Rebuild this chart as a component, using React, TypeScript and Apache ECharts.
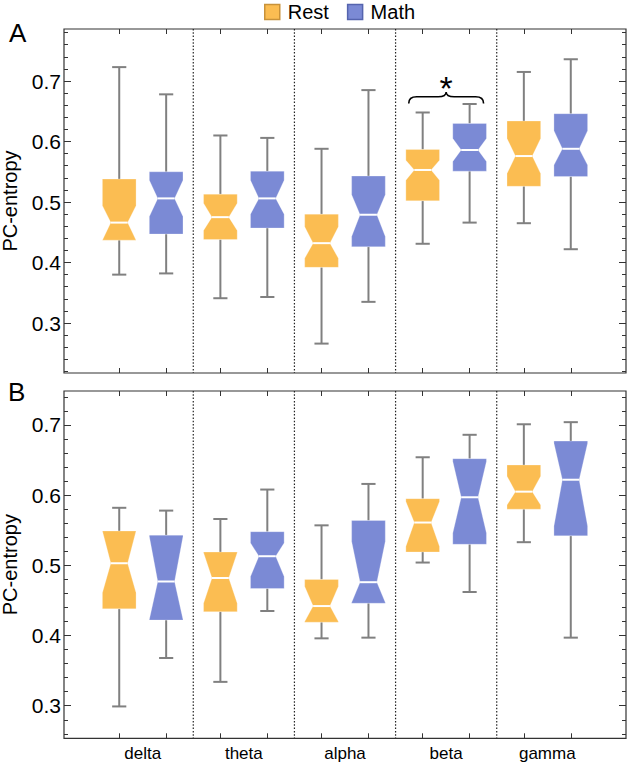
import React, { useEffect, useRef } from "react";
import * as echarts from "echarts";

const bands = ["delta", "theta", "alpha", "beta", "gamma"];
const groupNames = ["Rest", "Math"];
// each box: [min, q1, notchLow, median, notchHigh, q3, max]
const restA = [
  [0.380, 0.437, 0.437, 0.466, 0.494, 0.538, 0.723],
  [0.341, 0.438, 0.453, 0.475, 0.498, 0.513, 0.610],
  [0.266, 0.392, 0.407, 0.432, 0.459, 0.480, 0.588],
  [0.431, 0.502, 0.536, 0.553, 0.569, 0.587, 0.648],
  [0.465, 0.526, 0.547, 0.576, 0.605, 0.634, 0.715],
];
const mathA = [
  [0.382, 0.447, 0.476, 0.506, 0.536, 0.550, 0.678],
  [0.343, 0.457, 0.480, 0.506, 0.536, 0.551, 0.606],
  [0.335, 0.426, 0.443, 0.479, 0.512, 0.543, 0.685],
  [0.466, 0.551, 0.567, 0.586, 0.605, 0.630, 0.662],
  [0.422, 0.542, 0.561, 0.588, 0.618, 0.646, 0.736],
];
const restB = [
  [0.299, 0.438, 0.461, 0.503, 0.549, 0.549, 0.582],
  [0.334, 0.434, 0.446, 0.482, 0.518, 0.519, 0.566],
  [0.396, 0.419, 0.420, 0.442, 0.470, 0.480, 0.557],
  [0.504, 0.519, 0.527, 0.561, 0.591, 0.595, 0.654],
  [0.533, 0.580, 0.586, 0.605, 0.627, 0.643, 0.701],
];
const mathB = [
  [0.368, 0.422, 0.423, 0.477, 0.541, 0.543, 0.578],
  [0.435, 0.467, 0.484, 0.513, 0.532, 0.548, 0.608],
  [0.397, 0.446, 0.447, 0.476, 0.534, 0.564, 0.616],
  [0.462, 0.530, 0.546, 0.597, 0.648, 0.652, 0.686],
  [0.397, 0.542, 0.556, 0.622, 0.674, 0.677, 0.704],
];
const yTickLabels = [0.3, 0.4, 0.5, 0.6, 0.7];
const separators = [1.5, 2.5, 3.5, 4.5];
// significance annotation: band index (1-based), brace level, star text
const sigBand = [4];
const sigLevel = [0.674];
const sigText = ["*"];

const FONT = "Liberation Sans";
const COLORS: Record<string, string> = { Rest: "#FBBD52", Math: "#7B8AD5" };
const BORDERS: Record<string, string> = { Rest: "#C8923A", Math: "#5564AE" };
const OFFSET = 0.232;
const BOXW = 0.333;
const CAPW = 0.14;
const X_MIN = 0.222;
const X_MAX = 5.778;
const RANGE_A = [0.2174, 0.786];
const RANGE_B = [0.2536, 0.7484];

function minorTicks(min: number, max: number) {
  const out: number[] = [];
  for (let k = Math.ceil(min / 0.02 - 1e-6); k * 0.02 <= max + 1e-9; k++) {
    const v = Math.round(k * 2) / 100;
    if (!yTickLabels.some((m) => Math.abs(m - v) < 1e-6)) out.push(v);
  }
  return out;
}

const boxPositions = bands.flatMap((_, i) => [i + 1 - OFFSET, i + 1 + OFFSET]);

function boxRenderer(offset: number, color: string) {
  return (params: any, api: any) => {
    const x = api.value(0) + offset;
    const mn = api.value(1);
    const q1 = api.value(2);
    const q3 = api.value(6);
    const nlo = Math.max(api.value(3), q1);
    const med = api.value(4);
    const nhi = Math.min(api.value(5), q3);
    const mx = api.value(7);
    const hw = BOXW / 2;
    const ins = BOXW * 0.25;
    const p = (dx: number, v: number) => api.coord([x + dx, v]);
    const whisk = { stroke: "#808080", lineWidth: 2 };
    const c = p(0, 0);
    const cap = api.size([CAPW, 0])[0] / 2;
    const yMax = p(0, mx)[1];
    const yMin = p(0, mn)[1];
    const yQ3 = p(0, q3)[1];
    const yQ1 = p(0, q1)[1];
    const pts = [
      p(-hw, q3), p(hw, q3), p(hw, nhi), p(hw - ins, med), p(hw, nlo), p(hw, q1),
      p(-hw, q1), p(-hw, nlo), p(-hw + ins, med), p(-hw, nhi),
    ];
    const m1 = p(-hw + ins, med);
    const m2 = p(hw - ins, med);
    return {
      type: "group",
      children: [
        { type: "line", shape: { x1: c[0], y1: yMax, x2: c[0], y2: yQ3 }, style: whisk },
        { type: "line", shape: { x1: c[0] - cap, y1: yMax, x2: c[0] + cap, y2: yMax }, style: whisk },
        { type: "line", shape: { x1: c[0], y1: yQ1, x2: c[0], y2: yMin }, style: whisk },
        { type: "line", shape: { x1: c[0] - cap, y1: yMin, x2: c[0] + cap, y2: yMin }, style: whisk },
        { type: "polygon", shape: { points: pts }, style: { fill: color, stroke: "rgba(255,255,255,0.35)", lineWidth: 0.8 } },
        { type: "line", shape: { x1: m1[0], y1: m1[1], x2: m2[0], y2: m2[1] }, style: { stroke: "#fff", lineWidth: 2 } },
      ],
    };
  };
}

function sepRenderer(params: any, api: any) {
  const cs = params.coordSys;
  const c = api.coord([api.value(0), api.value(1)]);
  return {
    type: "line",
    shape: { x1: c[0], y1: cs.y, x2: c[0], y2: cs.y + cs.height },
    style: { stroke: "#222", lineWidth: 1.2, lineDash: [1.5, 1.8] },
  };
}

function braceRenderer(params: any, api: any) {
  const band = api.value(0);
  const lvl = api.value(1);
  const half = 0.37;
  const a = api.coord([band - half, lvl]);
  const b = api.coord([band + half, lvl]);
  const m = api.coord([band, lvl]);
  const yEnd = api.coord([band, lvl - 0.011])[1];
  const yTip = api.coord([band, lvl + 0.008])[1];
  const yMain = m[1];
  const x1 = a[0], x2 = b[0], xm = m[0];
  const r = 8;
  const d =
    `M${x1},${yEnd} Q${x1},${yMain} ${x1 + r},${yMain} ` +
    `L${xm - r},${yMain} Q${xm},${yMain} ${xm},${yTip} ` +
    `Q${xm},${yMain} ${xm + r},${yMain} L${x2 - r},${yMain} ` +
    `Q${x2},${yMain} ${x2},${yEnd}`;
  const yStar = api.coord([band, lvl + 0.027])[1];
  return {
    type: "group",
    children: [
      { type: "path", shape: { pathData: d }, style: { fill: "none", stroke: "#000", lineWidth: 1.6 } },
      {
        type: "text",
        x: xm,
        y: yStar + 8,
        style: { text: sigText[params.dataIndex], fill: "#000", fontSize: 34, fontFamily: FONT, align: "center", verticalAlign: "middle" },
      },
    ],
  };
}

export default function App() {
  const ref = useRef<HTMLDivElement>(null);
  useEffect(() => {
    if (!ref.current) return;
    const chart = echarts.init(ref.current, undefined, { renderer: "svg" });
    const grids = [
      { left: 64, right: 2, top: 29, height: 344, range: RANGE_A, showX: false },
      { left: 64, right: 2, top: 391, height: 347.3, range: RANGE_B, showX: true },
    ];
    const xAxes: any[] = [];
    const yAxes: any[] = [];
    grids.forEach((g, gi) => {
      const common = {
        type: "value", gridIndex: gi, min: X_MIN, max: X_MAX,
        axisLine: { show: false, onZero: false }, splitLine: { show: false },
      };
      xAxes.push({
        ...common, position: "bottom",
        axisTick: { show: true, inside: true, length: 5, customValues: boxPositions, lineStyle: { color: "#333" } },
        axisLabel: g.showX
          ? { show: true, customValues: [1, 2, 3, 4, 5], formatter: (v: number) => bands[Math.round(v) - 1], fontSize: 17, fontFamily: FONT, color: "#000", margin: 7 }
          : { show: false },
      });
      xAxes.push({
        ...common, position: "top",
        axisTick: { show: true, inside: true, length: 5, customValues: boxPositions, lineStyle: { color: "#333" } },
        axisLabel: { show: false },
      });
      const minors = minorTicks(g.range[0], g.range[1]);
      const ybase = {
        type: "value", gridIndex: gi, min: g.range[0], max: g.range[1],
        axisLine: { show: false, onZero: false }, splitLine: { show: false },
      };
      yAxes.push({
        ...ybase, position: "left",
        axisTick: { show: true, inside: true, length: 7, customValues: yTickLabels, lineStyle: { color: "#333" } },
        axisLabel: { show: true, customValues: yTickLabels, fontSize: 21, fontFamily: FONT, color: "#000", margin: 3, formatter: (v: number) => v.toFixed(1) },
        name: "PC-entropy", nameLocation: "middle", nameGap: 44, nameMoveOverlap: false,
        nameTextStyle: { fontSize: 20, fontFamily: FONT, color: "#000" },
      });
      yAxes.push({
        ...ybase, position: "left",
        axisTick: { show: true, inside: true, length: 4, customValues: minors, lineStyle: { color: "#333" } },
        axisLabel: { show: false },
      });
      yAxes.push({
        ...ybase, position: "right",
        axisTick: { show: true, inside: true, length: 7, customValues: yTickLabels, lineStyle: { color: "#333" } },
        axisLabel: { show: false },
      });
      yAxes.push({
        ...ybase, position: "right",
        axisTick: { show: true, inside: true, length: 4, customValues: minors, lineStyle: { color: "#333" } },
        axisLabel: { show: false },
      });
    });

    const series: any[] = [];
    const panels = [
      { rest: restA, math: mathA },
      { rest: restB, math: mathB },
    ];
    panels.forEach((pn, gi) => {
      series.push({
        type: "custom", name: "sep" + gi, xAxisIndex: gi * 2, yAxisIndex: gi * 4, silent: true,
        renderItem: sepRenderer, data: separators.map((s) => [s, 0.5]), encode: { x: 0, y: 1 },
      });
      [["Rest", pn.rest, -OFFSET], ["Math", pn.math, OFFSET]].forEach(([name, arr, off]: any) => {
        series.push({
          type: "custom", name, xAxisIndex: gi * 2, yAxisIndex: gi * 4,
          itemStyle: { color: COLORS[name] },
          renderItem: boxRenderer(off, COLORS[name]),
          data: arr.map((d: number[], i: number) => [i + 1, ...d]),
          encode: { x: 0, y: [1, 2, 3, 4, 5, 6, 7] },
        });
      });
    });
    series.push({
      type: "custom", name: "sig", xAxisIndex: 0, yAxisIndex: 0, silent: true,
      renderItem: braceRenderer, data: sigBand.map((b, i) => [b, sigLevel[i]]), encode: { x: 0, y: 1 },
    });

    chart.setOption({
      animation: false,
      grid: grids.map((g) => ({
        left: g.left, right: g.right, top: g.top, height: g.height, show: true,
        borderColor: "#333", borderWidth: 1.2, backgroundColor: "transparent",
        outerBoundsMode: "none", containLabel: false,
      })),
      xAxis: xAxes,
      yAxis: yAxes,
      legend: {
        left: 264, top: 2, itemWidth: 15, itemHeight: 15, itemGap: 18, padding: 0, icon: "rect",
        textStyle: { fontSize: 20, fontFamily: FONT, color: "#000", padding: [0, 0, 0, 3] },
        data: groupNames.map((n) => ({ name: n, itemStyle: { color: COLORS[n], borderColor: BORDERS[n], borderWidth: 1.5 } })),
      },
      graphic: [
        { type: "text", left: 9, top: 20, style: { text: "A", fontSize: 26, fontFamily: FONT, fill: "#000" } },
        { type: "text", left: 8, top: 379, style: { text: "B", fontSize: 26, fontFamily: FONT, fill: "#000" } },
      ],
      series,
    });
    return () => chart.dispose();
  }, []);
  return <div ref={ref} style={{ position: "absolute", left: 0, top: 0, width: 628, height: 763 }} />;
}
